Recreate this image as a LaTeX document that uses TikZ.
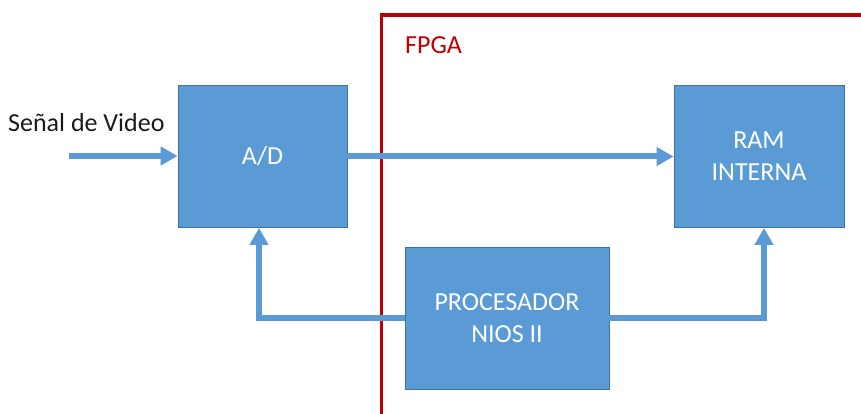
\documentclass[tikz,border=0pt]{standalone}
\usepackage{fontspec}
\setmainfont{Carlito}
\usetikzlibrary{arrows.meta}
\definecolor{boxblue}{HTML}{5B9BD5}
\definecolor{boxedge}{HTML}{41719C}
\definecolor{fpgared}{HTML}{C00000}
\definecolor{textdark}{HTML}{1A1A1A}
\tikzset{
  blockbox/.style={draw=boxedge, line width=0.8pt, fill=boxblue, text=white,
    align=center, inner sep=0pt, font=\fontsize{26}{31.7}\selectfont},
  flow/.style={draw=boxblue, line width=6pt,
    -{Triangle[length=17pt,width=18pt]}},
  link/.style={draw=boxblue, line width=6pt},
  frameline/.style={draw=fpgared, line width=3.3pt},
  plain/.style={inner sep=0pt, font=\fontsize{26}{31.7}\selectfont}
}
\begin{document}
\begin{tikzpicture}[x=1pt,y=-1pt]
\useasboundingbox (0,0) rectangle (861,414);
% FPGA frame
\draw[frameline] (381.5,416) -- (381.5,15) -- (864,15);
\node[plain, text=fpgared, anchor=base west] (fpga) at (405,53.3) {FPGA};
% blocks
\node[blockbox, minimum width=169pt, minimum height=142pt] (ad) at (262.5,156.5) {A/D};
\node[blockbox, minimum width=170pt, minimum height=142pt] (ram) at (759,156.5) {RAM\\INTERNA};
\node[blockbox, minimum width=204pt, minimum height=142pt] (proc) at (507,318) {PROCESADOR\\NIOS II};
% input
\node[plain, text=textdark, anchor=west] (sig) at (8,123) {Señal de Video};
\coordinate (in) at (69,156);
% connectors
\draw[flow] (in) -- (ad.west |- in);
\draw[flow] (ad.east) -- (ram.west);
\draw[link] (proc.west) -- ([xshift=-3.5pt]ad.south |- proc.west);
\draw[flow] ([xshift=-3.5pt,yshift=-3pt]ad.south |- proc.west) -- ([xshift=-3.5pt]ad.south);
\draw[link] (proc.east) -- ([xshift=5pt]ram.south |- proc.east);
\draw[flow] ([xshift=5pt,yshift=-3pt]ram.south |- proc.east) -- ([xshift=5pt]ram.south);
\end{tikzpicture}
\end{document}
